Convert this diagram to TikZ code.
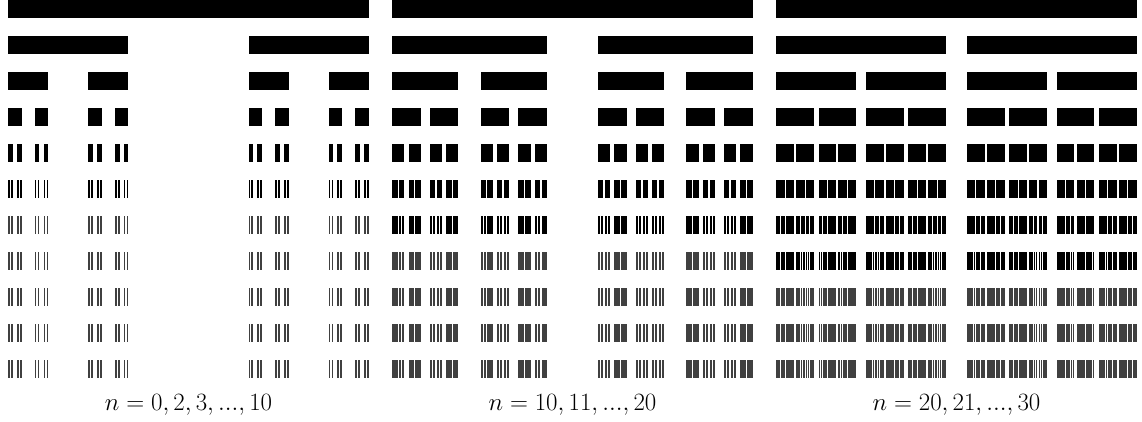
\documentclass[tikz,border=0pt]{standalone}
\usepackage{amsmath,amssymb}
\usepackage{tikz}
\usetikzlibrary{positioning,calc}
\definecolor{Ink}{HTML}{000000}

% one bar of row #3, then its two children in the next row;
% a bar whose children would be thinner than a pixel is kept for the rows below
\newcommand\cantorbar[4]{%
  \path[cbar] (#1,#3*36) rectangle ++(#2,18);
  \ifnum#3<10
    \pgfmathsetmacro\barlen{#2*#4}
    \pgfmathsetmacro\barright{#1+#2-\barlen}
    \pgfmathtruncatemacro\barrow{#3+1}
    \pgfmathtruncatemacro\barstop{\barlen<1.4}
    \ifnum\barstop=1
      \foreach \rr in {\barrow,...,10}{
        \path[cfine] (#1,\rr*36) rectangle ++(#2,18);
      }
    \else
      \edef\barnext{\noexpand\cantorbar{#1}{\barlen}{\barrow}{#4}\noexpand\cantorbar{\barright}{\barlen}{\barrow}{#4}}%
      \barnext
    \fi
  \fi}

\begin{document}
\begin{tikzpicture}[
    x=1pt,y=-1pt,
    cbar/.style={fill=Ink},
    cfine/.style={fill=Ink!75},
    caption/.style={anchor=base,inner sep=0pt,font=\fontsize{26.5}{30}\selectfont}
]
\useasboundingbox (0,0) rectangle (1142,421);
\foreach \x/\r in {8.3/0.333333,392.3/0.428571,776.3/0.470588}{
    \cantorbar{\x}{360.3}{0}{\r}
}
\node[caption] (lab1) at (188.5,410) {$n=0,2,3,...,10$};
\node[caption] (lab2) at (572.5,410) {$n=10,11,...,20$};
\node[caption] (lab3) at (956.5,410) {$n=20,21,...,30$};
\end{tikzpicture}
\end{document}
